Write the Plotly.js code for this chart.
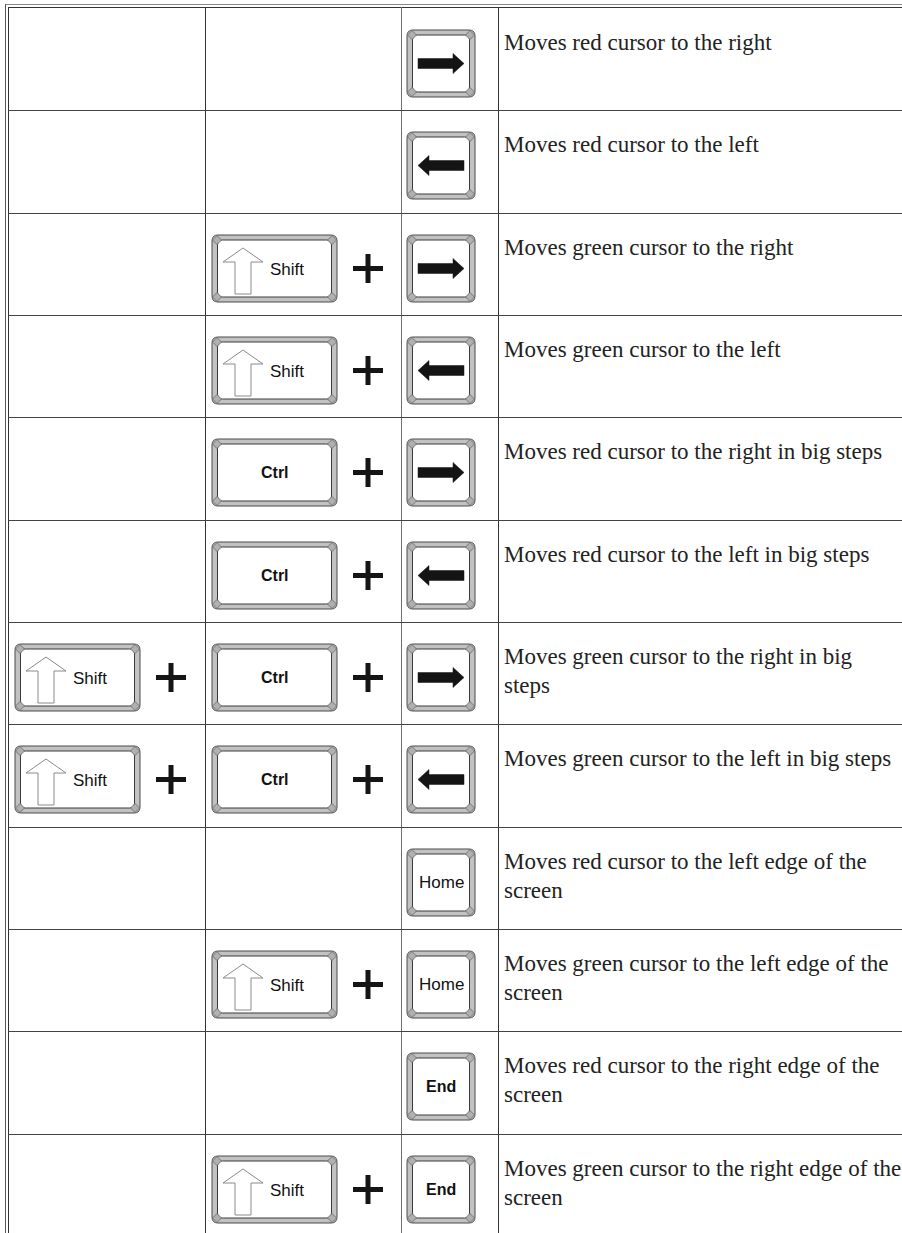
<!DOCTYPE html>
<html>
<head>
<meta charset="utf-8">
<script src="https://cdn.plot.ly/plotly-3.0.1.min.js"></script>
<style>
  html, body { margin: 0; padding: 0; background: #ffffff; }
  #chart { width: 902px; height: 1233px; }
</style>
</head>
<body>
<div id="chart"></div>
<script>
// ---- data ----
const descriptions = [
  "Moves red cursor to the right",
  "Moves red cursor to the left",
  "Moves green cursor to the right",
  "Moves green cursor to the left",
  "Moves red cursor to the right in big steps",
  "Moves red cursor to the left in big steps",
  "Moves green cursor to the right in big<br>steps",
  "Moves green cursor to the left in big steps",
  "Moves red cursor to the left edge of the<br>screen",
  "Moves green cursor to the left edge of the<br>screen",
  "Moves red cursor to the right edge of the<br>screen",
  "Moves green cursor to the right edge of the<br>screen"
];
const firstModifier  = ["", "", "", "", "", "", "Shift", "Shift", "", "", "", ""];
const secondModifier = ["", "", "Shift", "Shift", "Ctrl", "Ctrl", "Ctrl", "Ctrl", "", "Shift", "", "Shift"];
const mainKey        = ["Right", "Left", "Right", "Left", "Right", "Left", "Right", "Left", "Home", "Home", "End", "End"];

// ---- layout constants ----
const W = 902, H = 1233;
const ROW0 = 8, ROW_H = 102.33;
const COL_LINES = [8.5, 205.5, 401.5, 498.5];
const MOD1_X = 15, MOD2_X = 212, MAIN_X = 407;
const WIDE_W = 125, SQ_W = 68, KEY_H = 67, KEY_DY = 22;
const TEXT_X = 503;

const shapes = [];
const annotations = [];

function line(x0, y0, x1, y1, color, width) {
  shapes.push({type: 'line', xref: 'x', yref: 'y', x0, y0, x1, y1,
    line: {color, width: width || 1}});
}
function path(d, fill, color, width) {
  shapes.push({type: 'path', xref: 'x', yref: 'y', path: d,
    fillcolor: fill, line: {color: color, width: width === undefined ? 1 : width}});
}
function rr(x0, y0, x1, y1, r) {
  return `M${x0 + r},${y0} L${x1 - r},${y0} Q${x1},${y0} ${x1},${y0 + r} L${x1},${y1 - r} Q${x1},${y1} ${x1 - r},${y1} L${x0 + r},${y1} Q${x0},${y1} ${x0},${y1 - r} L${x0},${y0 + r} Q${x0},${y0} ${x0 + r},${y0} Z`;
}
function poly(pts) {
  return 'M' + pts.map(p => p[0] + ',' + p[1]).join(' L') + ' Z';
}
function label(text, x, y, size, bold) {
  annotations.push({xref: 'x', yref: 'y', x, y, text: bold ? '<b>' + text + '</b>' : text,
    showarrow: false, xanchor: 'center', yanchor: 'middle', borderpad: 0,
    font: {family: 'Liberation Sans, Arial, sans-serif', size, color: '#111111'}});
}

function keyCap(x0, y0, w, h) {
  const x1 = x0 + w, y1 = y0 + h;
  path(rr(x0, y0, x1, y1, 6), '#c2c2c2', '#4a4a4a', 1);
  path(rr(x0 + 5.5, y0 + 5, x1 - 5.5, y1 - 5, 5), '#ffffff', '#3a3a3a', 1);
  const c = [[x0 + 5, y0 + 5], [x1 - 5, y0 + 5], [x0 + 5, y1 - 5], [x1 - 5, y1 - 5]];
  const d = 4.5;
  const dp = c.map(p => `M${p[0]},${p[1] - d} L${p[0] + d},${p[1]} L${p[0]},${p[1] + d} L${p[0] - d},${p[1]} Z`).join(' ');
  path(dp, '#b0b0b0', '#666666', 0.8);
}

function modifierKey(name, x0, y0) {
  keyCap(x0, y0, WIDE_W, KEY_H);
  if (name === 'Shift') {
    path(poly([[x0 + 31, y0 + 13], [x0 + 51, y0 + 27], [x0 + 39, y0 + 27], [x0 + 39, y0 + 59],
               [x0 + 23, y0 + 59], [x0 + 23, y0 + 27], [x0 + 11, y0 + 27]]), '#ffffff', '#8a8a8a', 1);
    label('Shift', x0 + 75, y0 + 34, 17, false);
  } else {
    label('Ctrl', x0 + 63, y0 + 33.5, 16, true);
  }
  // plus sign
  const cx = x0 + WIDE_W + 31, cy = y0 + KEY_H / 2;
  line(cx - 15, cy, cx + 15, cy, '#151515', 5);
  line(cx, cy - 14.5, cx, cy + 14.5, '#151515', 5);
}

function mainKeyCap(name, x0, y0) {
  keyCap(x0, y0, SQ_W, KEY_H);
  const cy = y0 + KEY_H / 2;
  if (name === 'Right' || name === 'Left') {
    let pts = [[11, -5], [46, -5], [46, -10], [57, 0], [46, 10], [46, 5], [11, 5]];
    if (name === 'Left') pts = pts.map(p => [SQ_W - p[0], p[1]]);
    path(poly(pts.map(p => [x0 + p[0], cy + p[1]])), '#141414', '#141414', 0.5);
  } else if (name === 'Home') {
    label('Home', x0 + 34, cy, 17, false);
  } else {
    label('End', x0 + 34, cy, 16, true);
  }
}

// ---- table grid ----
line(5, 4.5, W, 4.5, '#8a8a8a', 1);
line(5.5, 4, 5.5, H, '#555555', 1);
line(8, 7.5, W, 7.5, '#333333', 1);
COL_LINES.forEach((x, k) => line(x, 7, x, H, k === 2 ? '#707070' : '#333333', 1));
for (let i = 1; i < descriptions.length; i++) {
  const y = Math.round(ROW0 + i * ROW_H) + 0.5;
  line(8, y, W, y, '#444444', 1);
}

// ---- rows ----
descriptions.forEach((desc, i) => {
  const top = ROW0 + i * ROW_H;
  const ky = Math.round(top + KEY_DY);
  if (firstModifier[i]) modifierKey(firstModifier[i], MOD1_X, ky);
  if (secondModifier[i]) modifierKey(secondModifier[i], MOD2_X, ky);
  mainKeyCap(mainKey[i], MAIN_X, ky);
  desc.split('<br>').forEach((txt, j) => {
    annotations.push({xref: 'x', yref: 'y', x: TEXT_X, y: top + 34.5 + j * 29, text: txt,
      showarrow: false, xanchor: 'left', yanchor: 'middle', align: 'left', borderpad: 0,
      font: {family: 'Liberation Serif, Times New Roman, serif', size: 23, color: '#222222'}});
  });
});

const layout = {
  width: W, height: H,
  margin: {l: 0, r: 0, t: 0, b: 0, pad: 0},
  paper_bgcolor: '#ffffff', plot_bgcolor: '#ffffff',
  showlegend: false,
  xaxis: {range: [0, W], visible: false, fixedrange: true},
  yaxis: {range: [H, 0], visible: false, fixedrange: true},
  shapes, annotations
};
Plotly.newPlot('chart', [{x: [], y: [], type: 'scatter', mode: 'markers', hoverinfo: 'skip'}], layout,
  {displayModeBar: false, staticPlot: true});
</script>
</body>
</html>
